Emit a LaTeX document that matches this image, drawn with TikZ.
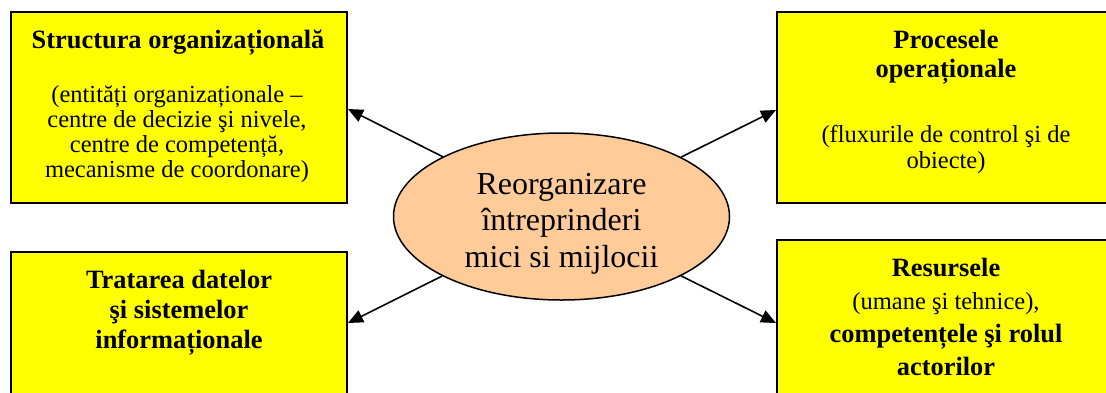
\documentclass[tikz,border=0pt]{standalone}
\usepackage{fontspec}
\setmainfont{Liberation Serif}
\usetikzlibrary{arrows.meta,shapes.geometric}
\definecolor{boxyellow}{RGB}{255,255,0}
\definecolor{peach}{RGB}{255,204,153}
\begin{document}
\begin{tikzpicture}[x=1pt,y=-1pt,
  box/.style={draw=black,line width=1.5pt,fill=boxyellow,rectangle,anchor=north west,inner sep=0pt,outer sep=0pt},
  ttl/.style={font=\fontsize{26.4}{30}\selectfont\bfseries,align=center,anchor=base,inner sep=0pt},
  body/.style={font=\fontsize{24.5}{25}\selectfont,align=center,anchor=base,inner sep=0pt},
  arr/.style={line width=1.6pt,-{Triangle[length=15pt,width=13pt]}}]
\useasboundingbox (0,0) rectangle (1106,392);
\clip (0,0) rectangle (1106,392);
% boxes
\node[box,minimum width=336pt,minimum height=191pt] (tl) at (11,12) {};
\node[box,minimum width=345pt,minimum height=191pt] (tr) at (777,12) {};
\node[box,minimum width=336pt,minimum height=170pt] (bl) at (11,252) {};
\node[box,minimum width=345pt,minimum height=180pt] (br) at (777,240) {};
% texts (anchor base = baseline of the last line)
\node[ttl] (tlt) at (178,48) {Structura organizațională};
\node[body] (tlb) at (177,177) {(entități organizaționale –\\centre de decizie şi nivele,\\centre de competență,\\mecanisme de coordonare)};
\node[ttl,font=\fontsize{26.4}{29}\selectfont\bfseries] (trt) at (946,77) {Procesele\\operaționale};
\node[body,font=\fontsize{24.5}{26}\selectfont] (trb) at (946,168) {(fluxurile de control şi de\\obiecte)};
\node[ttl] (blt) at (179,348) {Tratarea datelor\\şi sistemelor\\informaționale};
\node[body,font=\fontsize{24.5}{33}\selectfont] (brt) at (946,375) {\fontsize{26.4}{33}\selectfont\bfseries Resursele\\(umane şi tehnice),\\\fontsize{26.4}{33}\selectfont\bfseries competențele şi rolul\\\fontsize{26.4}{33}\selectfont\bfseries actorilor};
% ellipse
\node[ellipse,draw=black,line width=1.5pt,fill=peach,minimum width=336pt,minimum height=167pt,inner sep=0pt] (ell) at (561.5,216.5) {};
\node[body,font=\fontsize{32}{36.5}\selectfont] (ellt) at (561.5,267) {Reorganizare\\întreprinderi\\mici si mijlocii};
% arrow ends
\coordinate (tlEnd) at (348,109);
\coordinate (trEnd) at (776,110);
\coordinate (blEnd) at (348,323);
\coordinate (brEnd) at (776,323);
\draw[arr] (ell) -- (tlEnd);
\draw[arr] (ell) -- (trEnd);
\draw[arr] (ell) -- (blEnd);
\draw[arr] (ell) -- (brEnd);
\end{tikzpicture}
\end{document}
